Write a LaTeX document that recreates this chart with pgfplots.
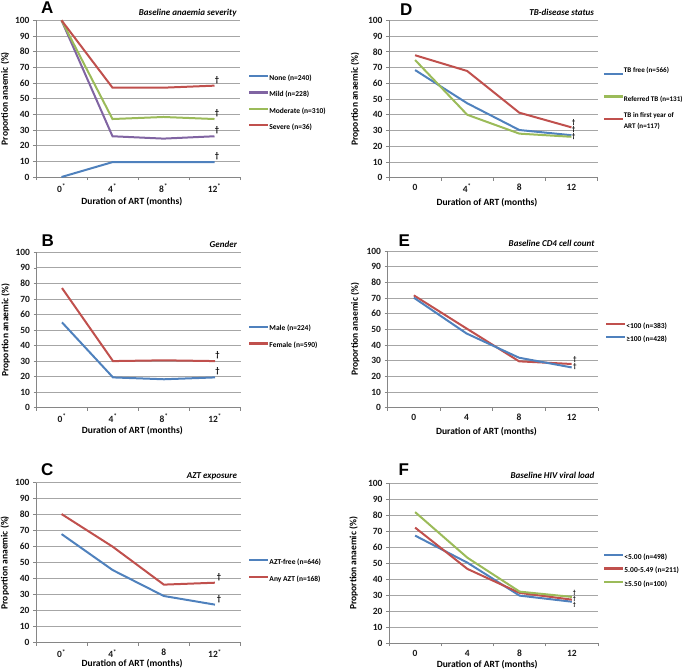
\documentclass[border=0pt]{standalone}
\usepackage{fontspec}
\setmainfont{Carlito}
\newfontfamily\arialfont{Liberation Sans}
\usepackage{pgfplots}
\pgfplotsset{compat=1.18}
\definecolor{cblue}{HTML}{4F81BD}
\definecolor{cred}{HTML}{C0504D}
\definecolor{cgreen}{HTML}{9BBB59}
\definecolor{cpurple}{HTML}{8064A2}
\definecolor{gridgray}{HTML}{A6A6A6}
\definecolor{axgray}{HTML}{868686}
\pgfplotsset{
 panel/.style={
  scale only axis, clip=false,
  xmin=-0.5, xmax=3.5, ymin=0, ymax=100,
  axis x line=bottom, axis y line=left,
  axis line style={-, axgray, line width=0.8pt},
  ytick={0,10,...,100},
  ymajorgrids, grid style={gridgray, line width=0.8pt},
  xtick={0,1,2,3},
  minor xtick={-0.5,0.5,1.5,2.5,3.5},
  major x tick style={draw=none},
  tick style={axgray, line width=0.6pt},
  tick align=outside,
  major tick length=3pt, minor tick length=3pt,
  /pgf/number format/assume math mode=true,
  ticklabel style={font=\bfseries\fontsize{9.5}{11}\selectfont, text=black!90},
  label style={font=\bfseries\fontsize{9.5}{11}\selectfont},
  ylabel={Proportion anaemic (\%)},
  xlabel={Duration of ART (months)},
  every axis plot/.append style={line width=2pt, no marks},
  legend cell align=left,
  legend style={draw=none, fill=none, inner sep=0pt, font=\bfseries\fontsize{7.5}{9}\selectfont, nodes={inner sep=0pt, text height=5.3pt, text depth=1.6pt}, anchor=west},
  legend image code/.code={\draw[#1, line width=2.2pt, line cap=butt] (0pt,2.5pt) -- (19pt,2.5pt);},
 },
}
\tikzset{
 letter/.style={anchor=base west, font=\arialfont\bfseries\fontsize{17}{18}\selectfont},
 ttl/.style={anchor=base east, font=\bfseries\itshape\fontsize{9}{10}\selectfont},
 dag/.style={font=\bfseries\fontsize{8.5}{9}\selectfont, inner sep=0pt, align=center},
 dagstack/.style={font=\bfseries\fontsize{7}{7.2}\selectfont, inner sep=0pt, align=center},
}
\begin{document}
\begin{tikzpicture}
\path[use as bounding box] (0pt,0pt) rectangle (685pt,-670pt);
% ---------------- A ----------------
\begin{axis}[panel, at={(36pt,-177pt)}, anchor=south west, width=204pt, height=156.7pt,
  xticklabels={0\textsuperscript{*},4\textsuperscript{*},8\textsuperscript{*},12\textsuperscript{*}},
  xlabel style={at={(axis description cs:0.47,-0.16)}, anchor=center},
  ylabel style={at={(axis description cs:-0.152,0.5)}, anchor=center},
  legend style={at={(axis description cs:1.039,0.472)}, row sep=9.3pt}]
\addplot[cblue] coordinates {(0,0) (1,9.5) (2,9.5) (3,9.5)};
\addlegendentry{None (n=240)}
\addplot[cpurple] coordinates {(0,100) (1,26) (2,24.5) (3,26)};
\addlegendentry{Mild (n=228)}
\addplot[cgreen] coordinates {(0,100) (1,37) (2,38.3) (3,37)};
\addlegendentry{Moderate (n=310)}
\addplot[cred] coordinates {(0,100) (1,57) (2,57) (3,58.3)};
\addlegendentry{Severe (n=36)}
\node[dag, anchor=south] at (axis cs:3.05,59.5) {†};
\node[dag, anchor=south] at (axis cs:3.05,38.5) {†};
\node[dag, anchor=south] at (axis cs:3.05,27.5) {†};
\node[dag, anchor=south] at (axis cs:3.05,11) {†};
\node[letter] at (rel axis cs:0,1) [xshift=1.5pt, yshift=7pt] {A};
\node[ttl] at (rel axis cs:1,1) [yshift=4.5pt] {Baseline anaemia severity};
\end{axis}
% ---------------- B ----------------
\begin{axis}[panel, at={(36.5pt,-407.7pt)}, anchor=south west, width=204pt, height=155.4pt,
  xticklabels={0\textsuperscript{*},4\textsuperscript{*},8\textsuperscript{*},12\textsuperscript{*}},
  xlabel style={at={(axis description cs:0.47,-0.15)}, anchor=center},
  ylabel style={at={(axis description cs:-0.152,0.5)}, anchor=center},
  legend style={at={(axis description cs:1.037,0.452)}, row sep=9.8pt}]
\addplot[cblue] coordinates {(0,54.9) (1,19.5) (2,18.3) (3,19.5)};
\addlegendentry{Male (n=224)}
\addplot[cred] coordinates {(0,77) (1,30) (2,30.5) (3,30)};
\addlegendentry{Female (n=590)}
\node[dag, anchor=south] at (axis cs:3.05,31.2) {†};
\node[dag, anchor=south] at (axis cs:3.05,20.7) {†};
\node[letter] at (rel axis cs:0,1) [xshift=1.5pt, yshift=5.5pt] {B};
\node[ttl] at (rel axis cs:1,1) [yshift=4.5pt] {Gender};
\end{axis}
% ---------------- C ----------------
\begin{axis}[panel, at={(36pt,-642.7pt)}, anchor=south west, width=204.5pt, height=160pt,
  xticklabels={0\textsuperscript{*},4\textsuperscript{*},8,12\textsuperscript{*}},
  xlabel style={at={(axis description cs:0.47,-0.133)}, anchor=center},
  ylabel style={at={(axis description cs:-0.152,0.5)}, anchor=center},
  legend style={at={(axis description cs:1.037,0.45)}, row sep=9.8pt}]
\addplot[cblue] coordinates {(0,67.9) (1,45.4) (2,29.2) (3,23.8)};
\addlegendentry{AZT-free (n=646)}
\addplot[cred] coordinates {(0,80.4) (1,60) (2,36.3) (3,37.5)};
\addlegendentry{Any AZT (n=168)}
\node[dag, anchor=south] at (axis cs:3.08,38.5) {†};
\node[dag, anchor=south] at (axis cs:3.08,25) {†};
\node[letter] at (rel axis cs:0,1) [xshift=1.5pt, yshift=7pt] {C};
\node[ttl] at (rel axis cs:1,1) [yshift=4.5pt] {AZT exposure};
\end{axis}
% ---------------- D ----------------
\begin{axis}[panel, at={(389pt,-177.7pt)}, anchor=south west, width=208.5pt, height=157.4pt,
  xticklabels={0,4\textsuperscript{*},8,12},
  xlabel style={at={(axis description cs:0.47,-0.159)}, anchor=center},
  ylabel style={at={(axis description cs:-0.163,0.5)}, anchor=center},
  legend style={at={(axis description cs:1.024,0.50)}, row sep=9.8pt, font=\bfseries\fontsize{7.1}{8.5}\selectfont, nodes={text depth=}}]
\addplot[cblue] coordinates {(0,68.4) (1,47.3) (2,30.3) (3,27)};
\addlegendentry{TB free (n=566)\rule[-13pt]{0pt}{13pt}}
\addplot[cgreen] coordinates {(0,74.8) (1,40) (2,28) (3,26)};
\addlegendentry{Referred TB (n=131)}
\addplot[cred] coordinates {(0,77.8) (1,67.8) (2,41.3) (3,32)};
\addlegendentry{\begin{tabular}[t]{@{}l@{}}TB in first year of\\[2.5pt]ART (n=117)\end{tabular}}
\node[dagstack] at (axis cs:3.04,30.5) {†\\†\\†};
\node[letter] at (rel axis cs:0,1) [xshift=7.5pt, yshift=5.3pt] {D};
\node[ttl] at (rel axis cs:1,1) [yshift=4.5pt] {TB-disease status};
\end{axis}
% ---------------- E ----------------
\begin{axis}[panel, at={(387.5pt,-407.7pt)}, anchor=south west, width=210.5pt, height=156.7pt,
  xticklabels={0,4,8,12},
  xlabel style={at={(axis description cs:0.47,-0.15)}, anchor=center},
  ylabel style={at={(axis description cs:-0.154,0.5)}, anchor=center},
  legend style={at={(axis description cs:1.033,0.477)}, row sep=5.4pt}]
\addplot[cred] coordinates {(0,71.7) (1,50.6) (2,29.6) (3,27.9)};
\addlegendentry{<100 (n=383)}
\addplot[cblue] coordinates {(0,70.2) (1,47.4) (2,31.9) (3,25.7)};
\addlegendentry{≥100 (n=428)}
\node[dagstack] at (axis cs:3.06,28.3) {†\\†};
\node[letter] at (rel axis cs:0,1) [xshift=7.5pt, yshift=4.5pt] {E};
\node[ttl] at (rel axis cs:1,1) [yshift=4.5pt] {Baseline CD4 cell count};
\end{axis}
% ---------------- F ----------------
\begin{axis}[panel, at={(389pt,-643.3pt)}, anchor=south west, width=209pt, height=160pt,
  xticklabels={0,4,8,12},
  xlabel style={at={(axis description cs:0.47,-0.136)}, anchor=center},
  ylabel style={at={(axis description cs:-0.17,0.5)}, anchor=center},
  legend style={at={(axis description cs:1.024,0.4525)}, row sep=6.3pt}]
\addplot[cblue] coordinates {(0,67.3) (1,50.4) (2,29.8) (3,26)};
\addlegendentry{<5.00 (n=498)}
\addplot[cred] coordinates {(0,72.3) (1,46.5) (2,31.5) (3,27.3)};
\addlegendentry{5.00-5.49 (n=211)}
\addplot[cgreen] coordinates {(0,82) (1,53.5) (2,32.3) (3,29)};
\addlegendentry{≥5.50 (n=100)}
\node[dagstack, font=\bfseries\fontsize{6}{6}\selectfont] at (axis cs:3.05,27.7) {†\\†\\†};
\node[letter] at (rel axis cs:0,1) [xshift=6pt, yshift=8pt] {F};
\node[ttl] at (rel axis cs:1,1) [yshift=4.5pt] {Baseline HIV viral load};
\end{axis}
\end{tikzpicture}
\end{document}
